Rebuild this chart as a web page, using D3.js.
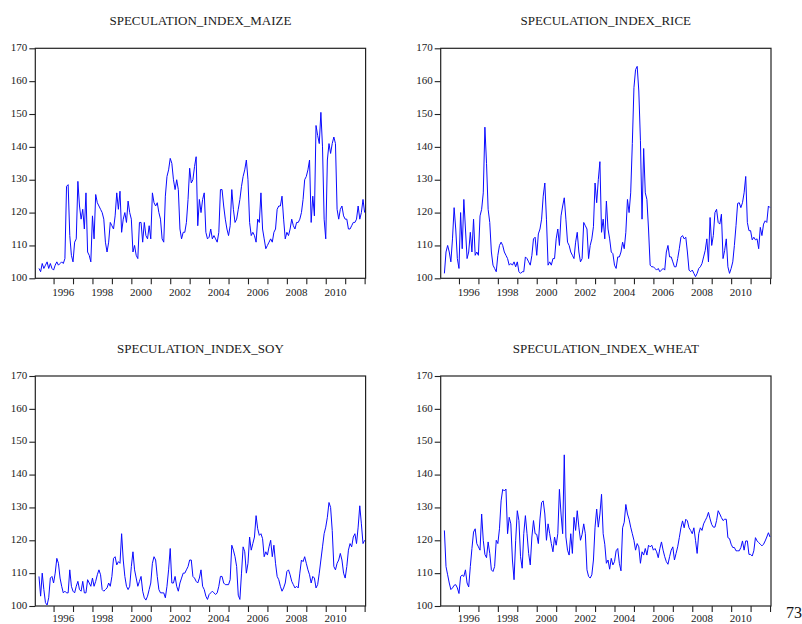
<!DOCTYPE html>
<html>
<head>
<meta charset="utf-8">
<script src="https://cdn.jsdelivr.net/npm/d3@7"></script>
<style>
  body { margin: 0; background: #fff; }
  svg { display: block; }
</style>
</head>
<body>
<div id="chart"></div>
<script>
// monthly observations, first one is April 1995
const firstMonth = 1995.25;

const titles = ["SPECULATION_INDEX_MAIZE", "SPECULATION_INDEX_RICE", "SPECULATION_INDEX_SOY", "SPECULATION_INDEX_WHEAT"];

const maize = [
    103, 102, 104.5, 103, 104, 105, 103, 104.5, 103, 102.5,
    104, 105, 104, 104.5, 105, 104.5, 106, 128, 128.5, 113,
    107, 105, 111, 112, 129.5, 122, 118, 121, 115, 126,
    108, 107, 105, 119, 112, 125.5, 123, 122, 121, 120,
    118, 111, 108, 111, 117, 116, 115, 119, 126, 121,
    126.5, 114, 118, 120, 117, 123.5, 120, 118, 108, 110,
    107, 106, 117, 117, 111, 117, 113, 112, 116, 112,
    126, 123, 122, 123, 120, 118, 112, 111, 125, 131,
    133, 136.5, 135, 130, 127, 130, 127, 115, 112, 114,
    114, 117, 124, 133.5, 129, 130, 134, 137, 116, 124,
    120, 124, 126, 114, 112, 112.5, 115, 112, 113, 112,
    111, 114, 127, 127, 122, 118, 115, 113, 116, 127,
    121, 117, 118, 121, 124, 128, 131, 133, 136, 130,
    117, 113, 114, 113, 111, 118, 117, 126, 115, 112,
    109, 110, 111, 112, 111, 114, 115, 121, 122, 122,
    125, 118, 112, 114, 113, 115, 118, 116, 115, 117,
    117, 118, 120, 124, 130, 131, 133, 136, 117, 125,
    119, 146.5, 143.5, 141, 150.5, 140, 118, 112, 136, 141,
    138, 141, 143, 141, 121, 118, 121, 122, 119, 118,
    118, 115, 115, 116, 117, 117, 118, 122, 118, 120,
    124, 120
];

const rice = [
    101.5, 108, 110, 108, 105, 112, 121.5, 115, 106, 103,
    120, 109, 124, 115, 106, 108, 114, 108, 118, 107,
    108, 107, 119, 121, 126, 146, 135, 121, 117, 108,
    104, 103, 102, 107, 110, 111, 110, 108, 107, 106,
    104, 104.5, 104, 105, 103.5, 105, 102, 101.5, 102, 102,
    106.5, 106, 105, 104, 107, 112, 112.5, 107, 113.5, 115,
    118, 125, 129, 118, 104, 105, 104, 106, 106, 112,
    115, 110, 119, 122, 124.5, 118, 111, 110, 108, 107,
    106, 111, 114, 108, 105, 106, 117, 116, 115, 106,
    110, 112, 115.7, 129, 123, 130, 135.5, 114, 118, 112,
    123.5, 115, 112, 108, 107.5, 104, 103, 106.5, 106.5, 108,
    111, 109, 114, 124, 120, 126, 141, 158, 163.5, 164.5,
    157, 142, 118, 139.5, 126, 124, 115, 104, 103.5, 103.5,
    103, 102.5, 103, 102, 102.5, 103, 102.5, 108, 110, 106.5,
    106.5, 105, 103.5, 103.5, 106, 109, 112.5, 113, 112, 112.5,
    108, 102.5, 102, 102.5, 101.5, 100.5, 101.5, 103, 103.5, 104.5,
    106.5, 108.5, 112, 105, 118.5, 110, 113, 120, 121, 117,
    116.5, 119.5, 106, 108.5, 112, 103.5, 101.5, 103, 105, 110,
    116, 122.8, 123, 121.5, 123, 126, 131, 117, 114.5, 114.5,
    111.7, 112.5, 111.7, 112, 109, 115.5, 113, 116.5, 117.5, 117,
    122, 121.5
];

const soy = [
    109, 103, 110, 105, 101, 100.3, 102.5, 108.5, 109, 107,
    110, 114.5, 113, 108.5, 106, 104, 104.5, 104, 104, 111,
    106, 104.5, 104, 106, 107.5, 105, 104.5, 107.5, 104, 104,
    108, 107, 106, 108.5, 106, 107.5, 109.5, 111, 109.5, 105,
    104.5, 105, 105.5, 107, 106, 109, 114.5, 115, 112.5, 113.5,
    113, 122, 114, 109, 106, 105, 106, 112, 116.5, 111,
    108.5, 106, 107.5, 109, 104.5, 102.5, 101.8, 103, 105, 107,
    113, 115, 114, 109, 105, 104, 104, 104, 102.5, 106,
    111, 117.5, 107, 107, 109, 106, 104.5, 107, 108.5, 110,
    110, 111, 112, 114, 114, 109, 108.5, 107.5, 107, 108.5,
    111, 106, 105, 103, 102, 103.5, 104, 104.5, 104, 103.5,
    104, 106, 109, 109, 107, 106.5, 106.5, 106.5, 108, 118.5,
    117, 115, 112, 103.3, 102, 110, 118, 116.5, 110, 113,
    121, 117, 119, 121, 127.5, 123.5, 121.5, 122, 120.5, 115,
    116.5, 115.5, 118, 120, 115, 118.5, 113, 109, 108, 106,
    104.5, 105.5, 107, 110.5, 111, 109.5, 107.5, 106.5, 105.5, 106,
    105.5, 110, 114, 113.5, 115, 113, 111, 109.5, 107, 109,
    108.5, 105.5, 106.5, 110, 114, 118, 122, 124, 127, 131.5,
    130, 123, 112, 111, 113, 114, 116, 114, 110, 108.5,
    112, 117, 119, 118, 121, 122, 119, 124, 130.5, 125,
    119, 120
];

const wheat = [
    123, 112, 109.5, 107, 105, 105.5, 106.3, 106.5, 105.5, 103.8,
    109, 109.4, 109, 111, 107, 105.8, 112, 117.5, 122.5, 123.5,
    119, 118, 117, 128, 120, 115.7, 114.7, 119.5, 116, 111,
    110.5, 112, 120, 119, 123.5, 132, 135.5, 135, 135.6, 122,
    127, 125, 114, 108, 120, 129, 126, 115, 111.5, 122,
    127.5, 122, 116, 112.5, 121, 126, 122, 121.8, 119, 126.5,
    131.5, 132, 128, 120, 125, 122, 119, 116.5, 121, 118.5,
    122, 135.5, 128, 122, 146, 121, 117, 115.5, 122, 116,
    127, 123, 129, 124, 120, 121.8, 125, 122, 111, 109,
    108.5, 109.5, 114, 124, 129.5, 124, 128, 134, 122, 118.8,
    113, 114, 111.2, 114.5, 112.5, 113.5, 116.8, 117.5, 113, 110.7,
    123.8, 125.5, 130.9, 128, 126.4, 124, 122, 120, 117, 119,
    118, 113, 116.5, 115.5, 117.5, 115.5, 118.5, 118, 118.5, 117,
    117.5, 116.5, 114.7, 117.5, 119.5, 117, 115, 113.5, 112.7, 115,
    117, 118, 114, 116, 118, 120.8, 123.8, 125.9, 123.8, 126.4,
    125.9, 123.8, 123, 122, 123.8, 120, 116, 122, 123.8, 123,
    125, 126, 127, 128.5, 126.5, 124.8, 124, 124, 126, 129,
    128, 126.9, 126, 126.4, 126.4, 120.8, 120.5, 118.8, 117.8, 117.8,
    116.8, 116.8, 116.8, 117.8, 119.8, 117, 119.8, 119.8, 115.7, 115.7,
    115.2, 116.8, 120.8, 119.8, 119.3, 118.8, 118.3, 118.8, 119.8, 121,
    122.3, 121
];

const yTicks = [100, 110, 120, 130, 140, 150, 160, 170];
const yearTicks = d3.range(1996, 2013);
const yearLabels = [1996, 1998, 2000, 2002, 2004, 2006, 2008, 2010];
const pageNumber = "73";

const width = 802;
const height = 624;
const plotW = 330.3;
const plotH = 230;
const font = "'Liberation Serif', 'Times New Roman', serif";

const series = [maize, rice, soy, wheat];
// left, top, and baseline offset of the year labels below the plot
const panelPos = [[35.3, 48.3, 17.7], [440.7, 48.3, 17.7], [35.3, 376, 16], [440.7, 376, 16]];

const svg = d3.select("#chart")
    .append("svg")
    .attr("width", width)
    .attr("height", height);

const x = d3.scaleLinear()
    .domain([1995.06, 2012.05])
    .range([0, plotW]);

const y = d3.scaleLinear()
    .domain([100, 170])
    .range([plotH, 0]);

const line = d3.line()
    .x((d, i) => x(firstMonth + i / 12))
    .y(d => y(d));

series.forEach((values, k) => {
    const [left, top, labelOffset] = panelPos[k];
    const g = svg.append("g")
        .attr("transform", `translate(${left},${top})`);

    // title
    g.append("text")
        .attr("x", plotW / 2)
        .attr("y", -23.3)
        .attr("text-anchor", "middle")
        .attr("font-family", font)
        .attr("font-size", "13px")
        .attr("fill", "#1a1a1a")
        .text(titles[k]);

    // y axis
    g.append("g")
        .call(d3.axisLeft(y).tickValues(yTicks).tickSize(6).tickPadding(2))
        .call(a => a.select(".domain").remove())
        .call(a => a.selectAll("line").attr("stroke", "#222").attr("stroke-width", 1.1))
        .call(a => a.selectAll("text")
            .attr("font-family", font)
            .attr("font-size", "11px")
            .attr("fill", "#1a1a1a")
            .attr("dy", "0.2em"));

    // x axis: a tick every year, a label every other year centred in its year
    g.append("g")
        .attr("transform", `translate(0,${plotH})`)
        .call(d3.axisBottom(x).tickValues(yearTicks).tickSize(6).tickFormat(""))
        .call(a => a.select(".domain").remove())
        .call(a => a.selectAll("line").attr("stroke", "#222").attr("stroke-width", 1.1));

    g.selectAll(".year")
        .data(yearLabels)
        .join("text")
        .attr("x", d => x(d + 0.5))
        .attr("y", plotH + labelOffset)
        .attr("text-anchor", "middle")
        .attr("font-family", font)
        .attr("font-size", "11px")
        .attr("fill", "#1a1a1a")
        .text(d => d);

    // frame
    g.append("rect")
        .attr("width", plotW)
        .attr("height", plotH)
        .attr("fill", "none")
        .attr("stroke", "#222")
        .attr("stroke-width", 1.2);

    g.append("path")
        .datum(values)
        .attr("d", line)
        .attr("fill", "none")
        .attr("stroke", "#0a0aff")
        .attr("stroke-width", 1)
        .attr("stroke-linejoin", "round");
});

svg.append("text")
    .attr("x", 786)
    .attr("y", 618)
    .attr("font-family", font)
    .attr("font-size", "16px")
    .attr("fill", "#111")
    .text(pageNumber);
</script>
</body>
</html>
